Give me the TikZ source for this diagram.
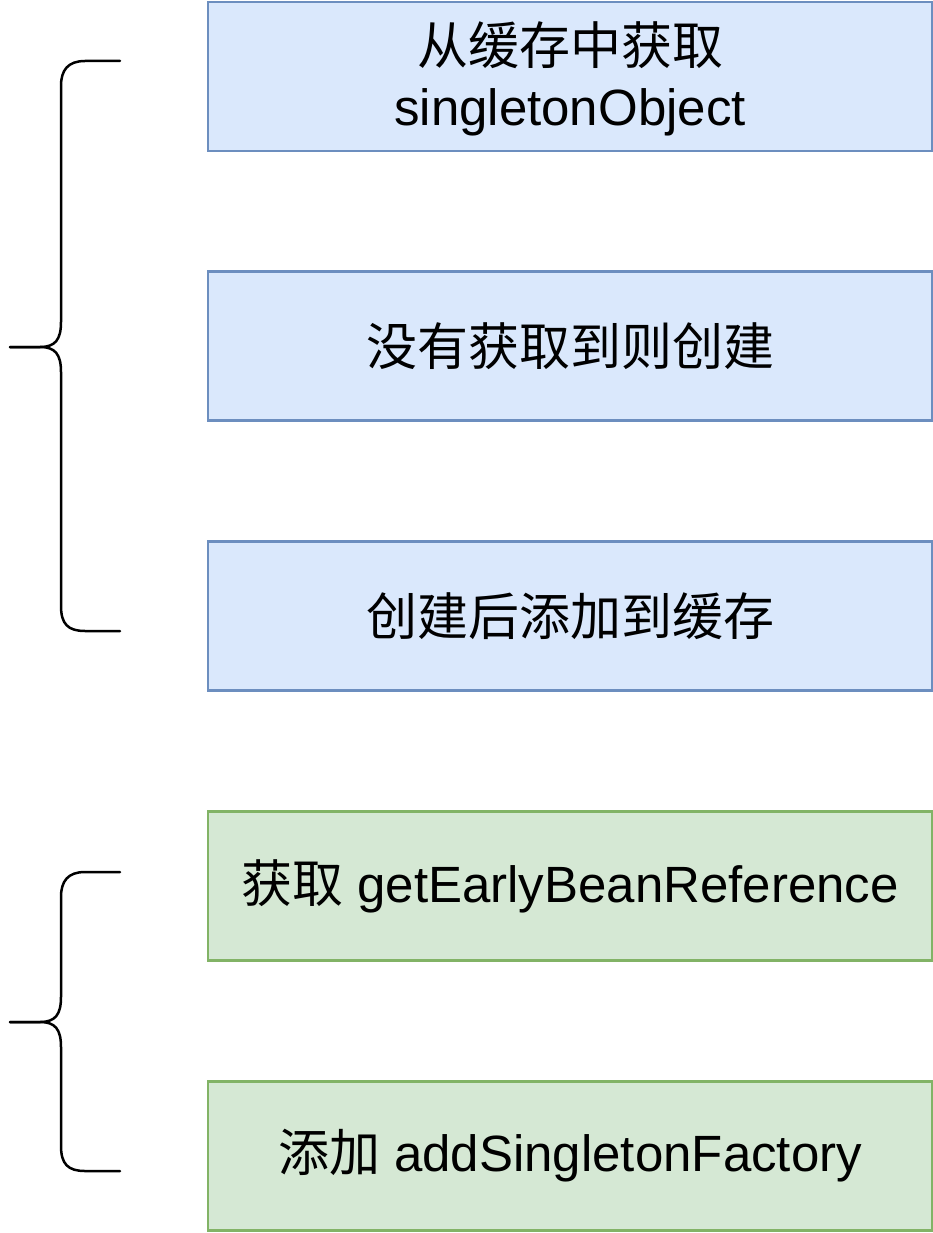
\documentclass[tikz,border=0pt]{standalone}
\usepackage{fontspec}
\setmainfont{Liberation Sans}
\newfontfamily\cjk{Noto Sans CJK SC}
\definecolor{bluefill}{HTML}{DAE8FC}
\definecolor{bluedraw}{HTML}{6C8EBF}
\definecolor{greenfill}{HTML}{D5E8D4}
\definecolor{greendraw}{HTML}{82B366}
\tikzset{
  boxbase/.style={rectangle, minimum width=724pt, minimum height=149pt, inner sep=0pt,
    line width=2.5pt, align=center, font=\fontsize{51}{61}\selectfont},
  bluebox/.style={boxbase, fill=bluefill, draw=bluedraw},
  greenbox/.style={boxbase, fill=greenfill, draw=greendraw},
  bracepath/.style={line width=2.5pt, draw=black, line cap=round}
}
\begin{document}
\begin{tikzpicture}[x=1pt,y=-1pt]
\useasboundingbox (0,0) rectangle (933,1233);
\fill[white] (0,0) rectangle (933,1233);
\node[bluebox] (b1) at (570,76.5) {};
\node[align=center, inner sep=0pt, font=\fontsize{51}{61}\selectfont] (b1t) at (570,78.5) {{\cjk 从缓存中获取}\\singletonObject};
\node[bluebox] (b2) at (570,346) {\cjk 没有获取到则创建};
\node[bluebox] (b3) at (570,616) {\cjk 创建后添加到缓存};
\node[greenbox] (g1) at (570,886) {{\cjk 获取} getEarlyBeanReference};
\node[greenbox] (g2) at (570,1156) {{\cjk 添加} addSingletonFactory};
% brace 1
\coordinate (t1) at (120,61);
\coordinate (m1) at (10,347);
\coordinate (e1) at (120,631);
\draw[bracepath] (t1) -- (85,61) .. controls (68,61) and (61,70) .. (61,86) -- (61,322)
  .. controls (61,340) and (55,347) .. (40,347) -- (m1);
\draw[bracepath] (m1) -- (40,347) .. controls (55,347) and (61,354) .. (61,372) -- (61,606)
  .. controls (61,624) and (68,631) .. (85,631) -- (e1);
% brace 2
\coordinate (t2) at (120,872);
\coordinate (m2) at (10,1022);
\coordinate (e2) at (120,1171);
\draw[bracepath] (t2) -- (85,872) .. controls (68,872) and (61,881) .. (61,897) -- (61,997)
  .. controls (61,1015) and (55,1022) .. (40,1022) -- (m2);
\draw[bracepath] (m2) -- (40,1022) .. controls (55,1022) and (61,1029) .. (61,1047) -- (61,1146)
  .. controls (61,1164) and (68,1171) .. (85,1171) -- (e2);
\end{tikzpicture}
\end{document}
